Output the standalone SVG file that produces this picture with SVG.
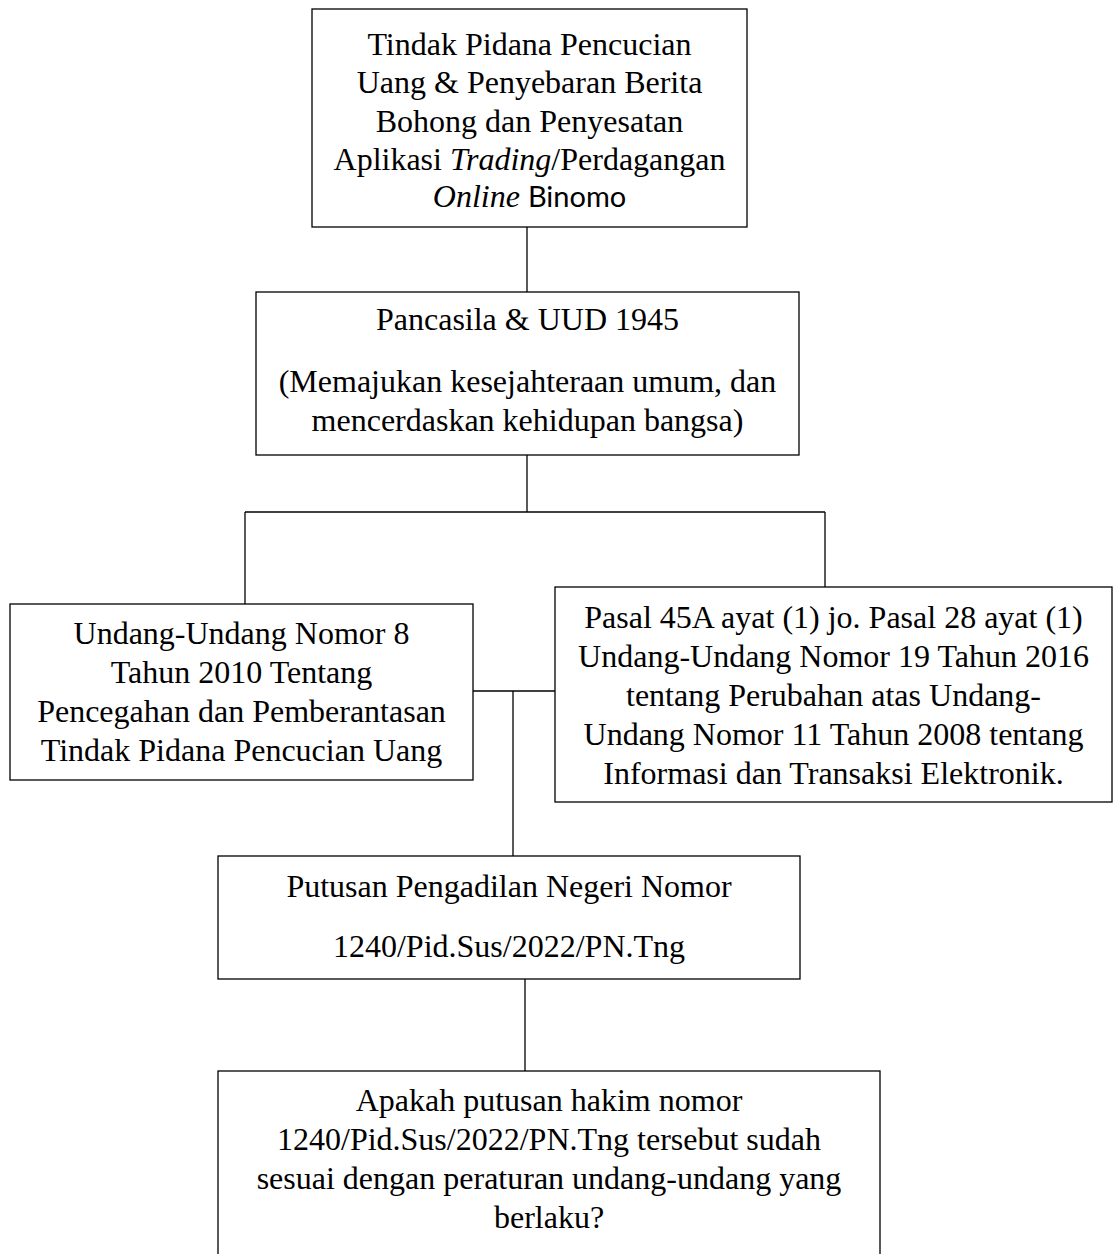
<svg xmlns="http://www.w3.org/2000/svg" width="1115" height="1254" viewBox="0 0 1115 1254">
<style>
.box{fill:#fff;stroke:#000;stroke-width:1.3}
.ln{stroke:#000;stroke-width:1.3;fill:none}
text{font-family:"Liberation Serif","Times New Roman",serif;font-size:32px;fill:#000;text-anchor:middle}
.it{font-style:italic}
.sans{font-family:Lato,"Open Sans",sans-serif;font-size:29px}
</style>
<rect width="1115" height="1254" fill="#fff"/>
<g id="connectors">
<line class="ln" x1="527" y1="227" x2="527" y2="292"/>
<line class="ln" x1="527" y1="455" x2="527" y2="512"/>
<line class="ln" x1="245" y1="512" x2="825" y2="512"/>
<line class="ln" x1="245" y1="512" x2="245" y2="604"/>
<line class="ln" x1="825" y1="512" x2="825" y2="587"/>
<line class="ln" x1="473" y1="691" x2="555" y2="691"/>
<line class="ln" x1="513" y1="691" x2="513" y2="856"/>
<line class="ln" x1="525" y1="979" x2="525" y2="1071"/>
</g>
<g id="node-tindak">
<rect class="box" x="312" y="9" width="435" height="218"/>
<text x="529.5" y="55">Tindak Pidana Pencucian</text>
<text x="529.5" y="93">Uang &amp; Penyebaran Berita</text>
<text x="529.5" y="132">Bohong dan Penyesatan</text>
<text x="529.5" y="170">Aplikasi <tspan class="it">Trading</tspan>/Perdagangan</text>
<text x="529.5" y="207"><tspan class="it">Online</tspan> <tspan class="sans">Binomo</tspan></text>
</g>
<g id="node-pancasila">
<rect class="box" x="256" y="292" width="543" height="163"/>
<text x="527.5" y="330">Pancasila &amp; UUD 1945</text>
<text x="527.5" y="392">(Memajukan kesejahteraan umum, dan</text>
<text x="527.5" y="431">mencerdaskan kehidupan bangsa)</text>
</g>
<g id="node-uu8">
<rect class="box" x="10" y="604" width="463" height="176"/>
<text x="241.5" y="644">Undang-Undang Nomor 8</text>
<text x="241.5" y="683">Tahun 2010 Tentang</text>
<text x="241.5" y="722">Pencegahan dan Pemberantasan</text>
<text x="241.5" y="761">Tindak Pidana Pencucian Uang</text>
</g>
<g id="node-pasal">
<rect class="box" x="555" y="587" width="557" height="215"/>
<text x="833.5" y="628">Pasal 45A ayat (1) jo. Pasal 28 ayat (1)</text>
<text x="833.5" y="667">Undang-Undang Nomor 19 Tahun 2016</text>
<text x="833.5" y="706">tentang Perubahan atas Undang-</text>
<text x="833.5" y="745">Undang Nomor 11 Tahun 2008 tentang</text>
<text x="833.5" y="784">Informasi dan Transaksi Elektronik.</text>
</g>
<g id="node-putusan">
<rect class="box" x="218" y="856" width="582" height="123"/>
<text x="509" y="897">Putusan Pengadilan Negeri Nomor</text>
<text x="509" y="957">1240/Pid.Sus/2022/PN.Tng</text>
</g>
<g id="node-apakah">
<rect class="box" x="218" y="1071" width="662" height="220"/>
<text x="549" y="1111">Apakah putusan hakim nomor</text>
<text x="549" y="1150">1240/Pid.Sus/2022/PN.Tng tersebut sudah</text>
<text x="549" y="1189">sesuai dengan peraturan undang-undang yang</text>
<text x="549" y="1228">berlaku?</text>
</g>
</svg>
